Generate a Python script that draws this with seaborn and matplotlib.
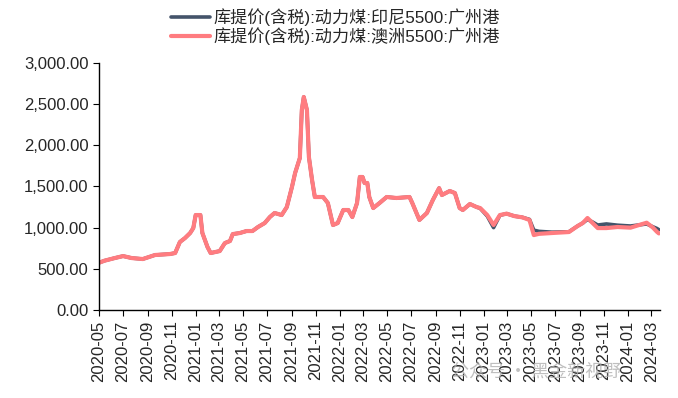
import pandas as pd
import matplotlib as mpl
import matplotlib.pyplot as plt
import matplotlib.dates as mdates
import matplotlib.ticker as mticker
import seaborn as sns

# 数据
DATES = [
    '2020-05-01', '2020-05-15', '2020-06-10', '2020-07-01', '2020-07-23', '2020-08-20',
    '2020-09-20', '2020-10-28', '2020-11-10', '2020-11-22', '2020-12-05', '2020-12-18',
    '2020-12-26', '2021-01-01', '2021-01-13', '2021-01-18', '2021-01-31', '2021-02-08',
    '2021-03-03', '2021-03-16', '2021-03-29', '2021-04-05', '2021-04-23', '2021-05-10',
    '2021-05-25', '2021-06-08', '2021-06-25', '2021-07-08', '2021-07-20', '2021-08-07',
    '2021-08-20', '2021-09-02', '2021-09-10', '2021-09-22', '2021-09-27', '2021-10-02',
    '2021-10-10', '2021-10-15', '2021-10-23', '2021-10-30', '2021-11-20', '2021-12-02',
    '2021-12-15', '2021-12-27', '2022-01-10', '2022-01-23', '2022-02-02', '2022-02-14',
    '2022-02-21', '2022-02-28', '2022-03-05', '2022-03-12', '2022-03-17', '2022-03-27',
    '2022-04-12', '2022-04-30', '2022-05-25', '2022-06-27', '2022-07-04', '2022-07-22',
    '2022-08-10', '2022-08-25', '2022-09-10', '2022-09-17', '2022-10-07', '2022-10-20',
    '2022-11-01', '2022-11-09', '2022-11-27', '2022-12-14', '2022-12-23', '2023-01-10',
    '2023-01-26', '2023-02-11', '2023-02-28', '2023-03-20', '2023-04-09', '2023-04-27',
    '2023-05-08', '2023-05-21', '2023-06-23', '2023-08-05', '2023-08-27', '2023-09-09',
    '2023-09-21', '2023-10-04', '2023-10-17', '2023-11-08', '2023-12-06', '2024-01-08',
    '2024-02-18', '2024-03-05', '2024-03-15', '2024-03-20',
]
AUS_5500 = [
    574, 599, 631, 655, 631, 619,
    668, 680, 692, 826, 874, 935,
    995, 1153, 1153, 935, 765, 692,
    716, 813, 838, 922, 935, 959,
    959, 1008, 1056, 1129, 1178, 1153,
    1250, 1493, 1663, 1845, 2428, 2586,
    2428, 1857, 1578, 1372, 1372, 1299,
    1032, 1056, 1214, 1214, 1129, 1299,
    1615, 1615, 1542, 1542, 1372, 1238,
    1299, 1372, 1360, 1372, 1299, 1093,
    1178, 1335, 1480, 1396, 1445, 1420,
    1238, 1214, 1287, 1250, 1238, 1153,
    1032, 1153, 1170, 1140, 1125, 1093,
    910, 925, 935, 947, 1020, 1056,
    1117, 1056, 995, 995, 1008, 1000,
    1060, 1000, 950, 930,
]
INDO_5500 = [
    574, 599, 631, 655, 631, 619,
    668, 680, 692, 826, 874, 935,
    995, 1153, 1153, 935, 765, 692,
    716, 813, 838, 922, 935, 959,
    959, 1008, 1056, 1129, 1178, 1153,
    1250, 1493, 1663, 1845, 2428, 2586,
    2428, 1857, 1578, 1372, 1372, 1299,
    1032, 1056, 1214, 1214, 1129, 1299,
    1615, 1615, 1542, 1542, 1372, 1238,
    1299, 1372, 1360, 1372, 1299, 1093,
    1178, 1335, 1480, 1396, 1445, 1420,
    1238, 1214, 1287, 1250, 1235, 1140,
    1000, 1150, 1170, 1140, 1125, 1100,
    970, 955, 945, 950, 1020, 1056,
    1100, 1068, 1032, 1045, 1030, 1020,
    1045, 1010, 990, 975,
]

INDO_LABEL = '库提价(含税):动力煤:印尼5500:广州港'
AUS_LABEL = '库提价(含税):动力煤:澳洲5500:广州港'
NAVY = '#44546A'
PINK = '#FF7C80'

if __name__ == "__main__":
    sns.set_style('ticks')
    plt.rcParams['font.family'] = ['Liberation Sans', 'Noto Sans CJK SC', 'DejaVu Sans']
    mpl.rcParams['axes.unicode_minus'] = False

    df = pd.DataFrame({'date': pd.to_datetime(DATES), 'indo': INDO_5500, 'aus': AUS_5500})

    fig = plt.figure(figsize=(6.78, 3.98), dpi=100)
    ax = fig.add_axes([0.146, 0.221, 0.827, 0.621])
    sns.lineplot(data=df, x='date', y='indo', ax=ax, color=NAVY, linewidth=2.6, label=INDO_LABEL)
    sns.lineplot(data=df, x='date', y='aus', ax=ax, color=PINK, linewidth=3.0, label=AUS_LABEL)

    ax.set_ylim(0, 3000)
    ax.set_xlim(pd.Timestamp('2020-05-01'), pd.Timestamp('2024-03-22'))
    ax.yaxis.set_major_locator(mticker.MultipleLocator(500))
    ax.yaxis.set_major_formatter(mticker.StrMethodFormatter('{x:,.2f}'))
    ax.xaxis.set_major_locator(mdates.MonthLocator(bymonth=[1, 3, 5, 7, 9, 11]))
    ax.xaxis.set_major_formatter(mdates.DateFormatter('%Y-%m'))
    ax.tick_params(axis='x', labelrotation=90, labelsize=12, length=4, color='black')
    ax.tick_params(axis='y', labelsize=12, length=4, color='black')
    ax.set_xlabel('')
    ax.set_ylabel('')
    sns.despine(ax=ax)
    for s in ['left', 'bottom']:
        ax.spines[s].set_color('black')
        ax.spines[s].set_linewidth(1.0)

    handles, labels = ax.get_legend_handles_labels()
    ax.get_legend().remove()
    fig.legend(handles, labels, loc='upper center', bbox_to_anchor=(0.495, 1.0), frameon=False,
               fontsize=12.3, handlelength=2.3, handletextpad=0.2, labelspacing=0.05,
               borderaxespad=0.1)

    # 水印
    fig.text(0.665, 0.065, '公众号 · 黑金新视野', fontsize=13, color='#b0b0b0', alpha=0.8,
             ha='left', va='center', family=['Noto Sans CJK SC', 'DejaVu Sans'])

    fig.savefig('out.png', dpi=100)
